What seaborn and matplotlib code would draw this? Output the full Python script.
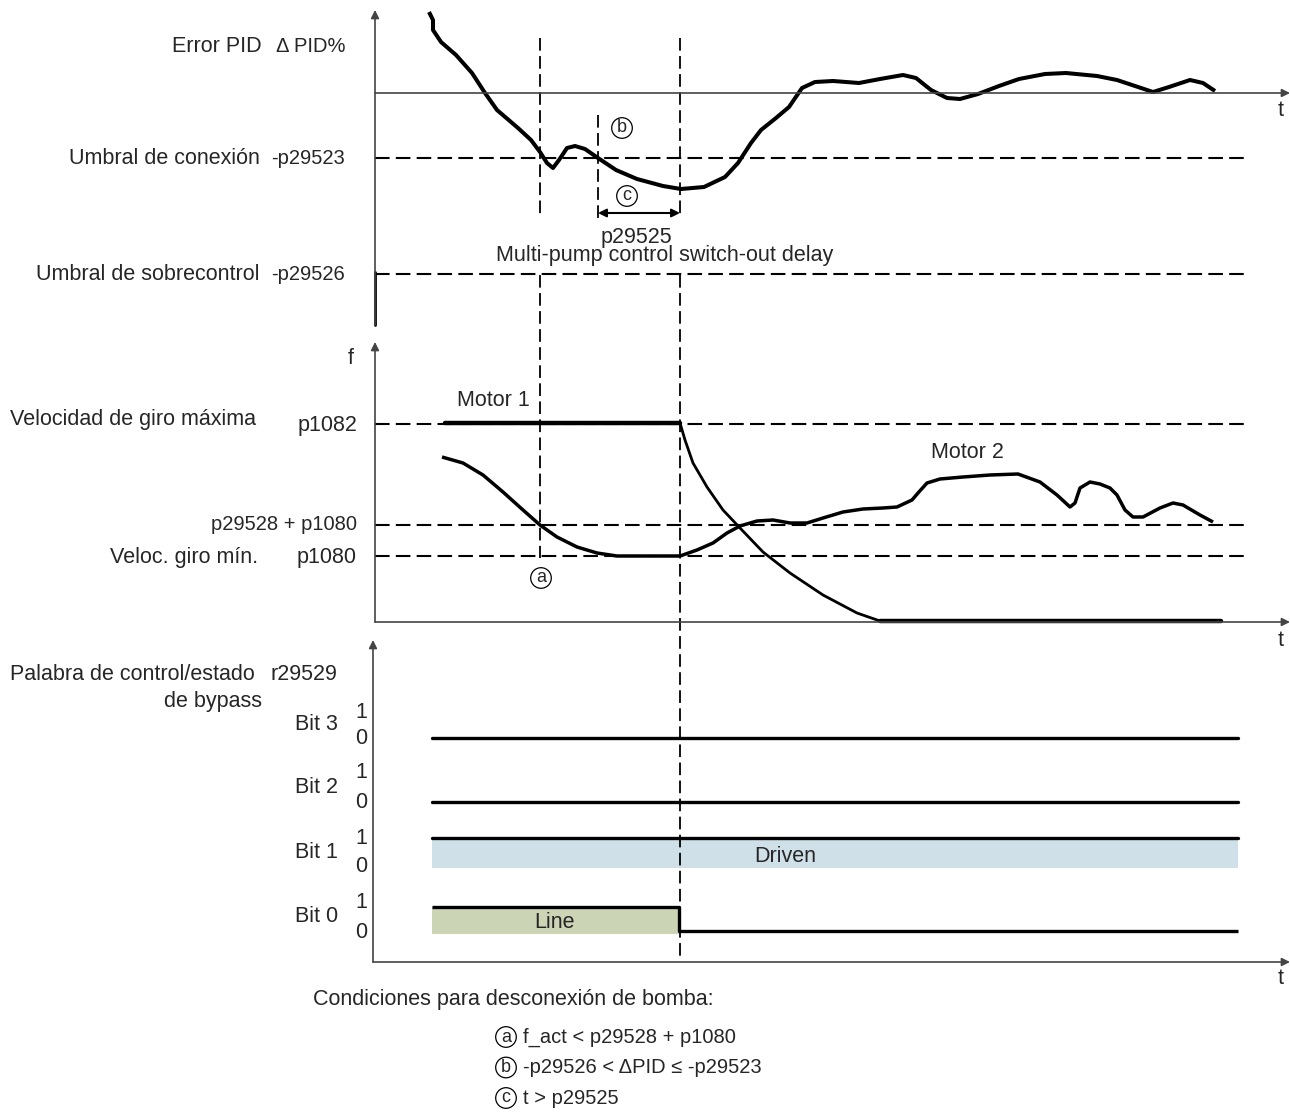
import numpy as np
import pandas as pd
import matplotlib
matplotlib.use('Agg')
import matplotlib.pyplot as plt
import seaborn as sns

# --- data (x = time in px, y = level in px, top-down) ---
pid_t = [429, 433, 433, 441, 456, 472, 485, 497, 518, 531, 540, 547, 553, 559,
         567, 575, 585, 598, 616, 637, 663, 681, 704, 725, 738, 751, 761, 776,
         789, 802, 815, 833, 859, 880, 903, 916, 931, 947, 960, 978, 999, 1019,
         1045, 1066, 1097, 1117, 1138, 1153, 1169, 1190, 1203, 1215]
pid_err = [12, 20, 30, 42, 55, 73, 93, 110, 128, 140, 152, 163, 168, 160,
           148, 146, 149, 158, 170, 179, 186, 189, 187, 177, 163, 143, 130, 118,
           107, 88, 82, 81, 83, 79, 75, 78, 90, 98, 99, 94, 86, 79,
           74, 73, 76, 80, 87, 92, 87, 80, 83, 91]

motor1_t = [445, 680, 685, 693, 707, 723, 740, 763, 790, 823, 857, 880, 1221]
motor1_f = [423, 423, 440, 463, 487, 510, 528, 552, 573, 595, 613, 621, 621]

motor2_t = [442, 463, 483, 503, 523, 540, 557, 577, 597, 617, 680, 697, 713,
            727, 740, 757, 773, 790, 807, 823, 843, 863, 883, 897, 912, 918,
            927, 940, 963, 990, 1018, 1040, 1057, 1070, 1075, 1080, 1090, 1100,
            1110, 1117, 1125, 1133, 1143, 1160, 1173, 1183, 1200, 1213]
motor2_f = [457, 463, 475, 492, 510, 525, 537, 547, 553, 556, 556, 550, 543,
            533, 526, 521, 520, 523, 523, 518, 512, 509, 508, 507, 500, 493,
            483, 479, 477, 475, 474, 482, 495, 507, 503, 488, 482, 484,
            488, 495, 510, 517, 517, 508, 503, 505, 515, 522]

# thresholds
pid_levels = [158, 274]
pid_names = ['Umbral de conexión', 'Umbral de sobrecontrol']
pid_params = ['-p29523', '-p29526']
f_levels = [424, 525, 556]
f_params = ['p1082', 'p29528 + p1080', 'p1080']
f_names = ['Velocidad de giro máxima', '', 'Veloc. giro mín.']

# event markers (vertical dashed)
event_t = [540, 540, 680, 680, 598]
event_top = [38, 275, 38, 275, 115]
event_bottom = [218, 558, 218, 958, 218]

# bits of r29529
bit_names = ['Bit 3', 'Bit 2', 'Bit 1', 'Bit 0']
bit_hi = [712, 773, 838, 902]
bit_lo = [738, 802, 866, 932]
bit0_t = [432, 679, 679, 1238]
bit0_y = [907, 907, 931, 931]

conditions = ['f_act < p29528 + p1080', '-p29526 < ΔPID ≤ -p29523', 't > p29525']
cond_marks = ['a', 'b', 'c']

sns.set_theme(style='white')
plt.rcParams['font.family'] = ['Liberation Sans', 'DejaVu Sans']
FS = 15.5
SFS = 14.5
CFS = 13

fig = plt.figure(figsize=(12.9, 11.13), dpi=100)
ax = fig.add_axes([0, 0, 1, 1])
ax.set_xlim(0, 1290)
ax.set_ylim(1113, 0)
ax.axis('off')

dash = (0, (7, 3))
axcol = '#444444'
arrow = dict(arrowstyle='-|>', color='black', lw=1.2, mutation_scale=12, shrinkA=0, shrinkB=0)
curve_kw = dict(sort=False, estimator=None, color='black', solid_joinstyle='round',
                solid_capstyle='butt', ax=ax)

# axes
for (x0, y0, x1, y1) in [(375, 325, 375, 10), (375, 93, 1290, 93),
                         (375, 622, 375, 342), (375, 622, 1290, 622),
                         (373, 962, 373, 640), (373, 962, 1290, 962)]:
    ax.annotate('', xy=(x1, y1), xytext=(x0, y0), arrowprops=dict(arrow, color=axcol))
ax.plot([375, 375], [272, 325], color='black', lw=2)
for y in [111, 640, 979]:
    ax.text(1281, y, 't', fontsize=FS, ha='center', va='center')

# horizontal thresholds
for y in pid_levels + f_levels:
    ax.plot([375, 1250], [y, y], color='black', lw=1.5, linestyle=dash)

# vertical event lines
for x, t0, t1 in zip(event_t, event_top, event_bottom):
    ax.plot([x, x], [t0, t1], color='black', lw=1.3, linestyle=dash)

# curves
sns.lineplot(x=pid_t, y=pid_err, lw=2.9, **curve_kw)
m1 = pd.DataFrame({'t': motor1_t, 'f': motor1_f})
ax.plot(m1.t[:2], m1.f[:2], color='black', lw=3.2)
sns.lineplot(data=m1.iloc[1:-1], x='t', y='f', lw=2.0, **curve_kw)
ax.plot(m1.t[-2:], m1.f[-2:], color='black', lw=3.2)
sns.lineplot(x=motor2_t, y=motor2_f, lw=2.5, **curve_kw)

# labels section 1
ax.text(262, 47, 'Error PID', fontsize=FS, ha='right', va='center')
ax.text(345, 47, 'Δ PID%', fontsize=SFS, ha='right', va='center')
for y, n, p in zip(pid_levels, pid_names, pid_params):
    ax.text(260, y, n, fontsize=FS, ha='right', va='center')
    ax.text(345, y, p, fontsize=SFS, ha='right', va='center')

circ = dict(boxstyle='circle,pad=0.1', fc='none', ec='black', lw=0.9)
ax.text(622, 128, 'b', fontsize=CFS, ha='center', va='center', bbox=circ)
ax.text(627, 196, 'c', fontsize=CFS, ha='center', va='center', bbox=circ)
ax.annotate('', xy=(680, 213), xytext=(598, 213),
            arrowprops=dict(arrowstyle='<|-|>', color='black', lw=1.5, mutation_scale=12, shrinkA=0, shrinkB=0))
ax.text(636, 237, 'p29525', fontsize=FS, ha='center', va='center')
ax.text(665, 256, 'Multi-pump control switch-out delay', fontsize=FS, ha='center', va='center')

# labels section 2
ax.text(351, 358, 'f', fontsize=FS, ha='center', va='center')
ax.text(10, 419, f_names[0], fontsize=FS, ha='left', va='center')
ax.text(258, 557, f_names[2], fontsize=FS, ha='right', va='center')
ax.text(357, 426, f_params[0], fontsize=FS, ha='right', va='center')
ax.text(357, 525, f_params[1], fontsize=SFS, ha='right', va='center')
ax.text(357, 557, f_params[2], fontsize=FS, ha='right', va='center')
ax.text(493, 401, 'Motor 1', fontsize=FS, ha='center', va='center')
ax.text(967, 452, 'Motor 2', fontsize=FS, ha='center', va='center')
ax.text(541, 578, 'a', fontsize=CFS, ha='center', va='center', bbox=circ)

# section 3: control word
ax.text(255, 674, 'Palabra de control/estado', fontsize=FS, ha='right', va='center')
ax.text(337, 674, 'r29529', fontsize=FS, ha='right', va='center')
ax.text(262, 702, 'de bypass', fontsize=FS, ha='right', va='center')
for n, hi, lo in zip(bit_names, bit_hi, bit_lo):
    ax.text(338, (hi + lo) / 2, n, fontsize=FS, ha='right', va='center')
    ax.text(361, hi, '1', fontsize=FS, ha='center', va='center')
    ax.text(361, lo, '0', fontsize=FS, ha='center', va='center')

ax.fill_between([432, 1238], 838, 868, color='#d0e0e9', lw=0)
ax.fill_between([432, 679], 907, 934, color='#cbd5b5', lw=0)
for y in [738, 802, 838]:
    ax.plot([432, 1238], [y, y], color='black', lw=2.4)
sns.lineplot(x=bit0_t, y=bit0_y, lw=2.4, **curve_kw)
ax.text(785, 856, 'Driven', fontsize=FS, ha='center', va='center')
ax.text(555, 922, 'Line', fontsize=FS, ha='center', va='center')

# conditions
ax.text(313, 1000, 'Condiciones para desconexión de bomba:', fontsize=FS, ha='left', va='center')
for i, (m, c) in enumerate(zip(cond_marks, conditions)):
    y = 1037 + i * 30.5
    ax.text(506, y, m, fontsize=CFS, ha='center', va='center', bbox=circ)
    ax.text(523, y, c, fontsize=SFS, ha='left', va='center')

fig.savefig('out.png', dpi=100)
